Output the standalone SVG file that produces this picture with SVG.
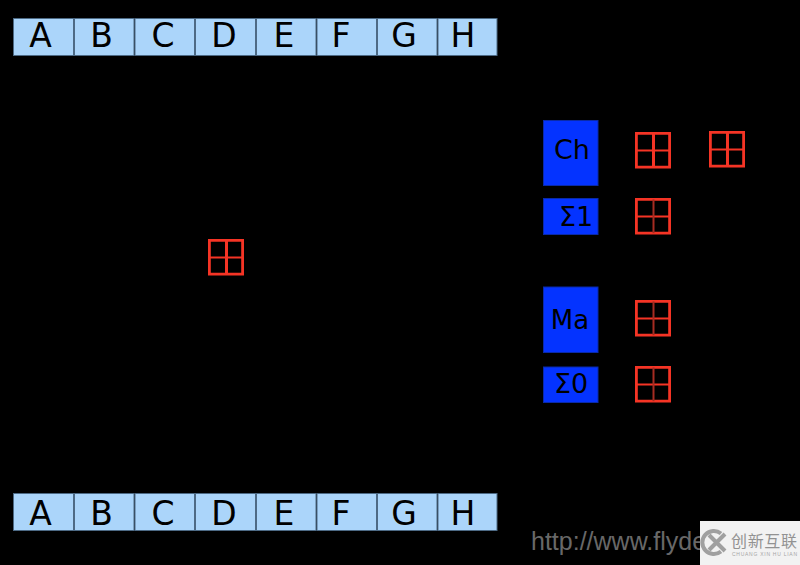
<svg xmlns="http://www.w3.org/2000/svg" width="800" height="565" viewBox="0 0 800 565">
<style>
.reg{fill:#abd5fa;stroke:#4d6a85;stroke-width:1}
.rl{font-family:"DejaVu Sans",sans-serif;font-size:33px;fill:#000;text-anchor:middle}
.fn{fill:#0433ff;stroke:#0a2aa8;stroke-width:1}
.fl{font-family:"DejaVu Sans",sans-serif;font-size:27px;fill:#000;text-anchor:middle}
.frame{fill:none;stroke:#f53425;stroke-width:2.8}
.cross{fill:none;stroke:#f53425;stroke-width:2}
.vb{fill:none;stroke:#f53425;stroke-width:3}
.vd{fill:none;stroke:#a62c22;stroke-width:2}
</style>
<defs>
<g id="box"><path class="frame" d="M1.400 1.400H34.600V35.200H1.400Z"/><path class="cross" d="M1.400 18.500H34.600"/></g>
<path id="vbar" d="M18.500 1.400V35.200"/>
</defs>
<rect width="800" height="565" fill="#000"/>
<g id="connectors"></g>
<g id="input-registers">
<g id="in-A"><rect class="reg" x="13.5" y="18.5" width="60" height="37"/><text class="rl" x="40.5" y="47">A</text></g>
<g id="in-B"><rect class="reg" x="74.5" y="18.5" width="59.500" height="37"/><text class="rl" x="101.500" y="47">B</text></g>
<g id="in-C"><rect class="reg" x="135" y="18.500" width="59.500" height="37"/><text class="rl" x="163" y="47">C</text></g>
<g id="in-D"><rect class="reg" x="195.500" y="18.500" width="60" height="37"/><text class="rl" x="224" y="47">D</text></g>
<g id="in-E"><rect class="reg" x="256.500" y="18.500" width="59.500" height="37"/><text class="rl" x="284" y="47">E</text></g>
<g id="in-F"><rect class="reg" x="317" y="18.500" width="59.500" height="37"/><text class="rl" x="341" y="47">F</text></g>
<g id="in-G"><rect class="reg" x="377.500" y="18.500" width="59.500" height="37"/><text class="rl" x="404" y="47">G</text></g>
<g id="in-H"><rect class="reg" x="438" y="18.500" width="59" height="37"/><text class="rl" x="463" y="47">H</text></g>
</g>
<g id="output-registers">
<g id="out-A"><rect class="reg" x="13.5" y="493.500" width="60" height="37"/><text class="rl" x="40.5" y="525">A</text></g>
<g id="out-B"><rect class="reg" x="74.5" y="493.500" width="59.500" height="37"/><text class="rl" x="101.500" y="525">B</text></g>
<g id="out-C"><rect class="reg" x="135" y="493.500" width="59.500" height="37"/><text class="rl" x="163" y="525">C</text></g>
<g id="out-D"><rect class="reg" x="195.500" y="493.500" width="60" height="37"/><text class="rl" x="224" y="525">D</text></g>
<g id="out-E"><rect class="reg" x="256.500" y="493.500" width="59.500" height="37"/><text class="rl" x="284" y="525">E</text></g>
<g id="out-F"><rect class="reg" x="317" y="493.500" width="59.500" height="37"/><text class="rl" x="341" y="525">F</text></g>
<g id="out-G"><rect class="reg" x="377.500" y="493.500" width="59.500" height="37"/><text class="rl" x="404" y="525">G</text></g>
<g id="out-H"><rect class="reg" x="438" y="493.500" width="59" height="37"/><text class="rl" x="463" y="525">H</text></g>
</g>
<g id="fn-Ch"><rect class="fn" x="543.500" y="120.500" width="54.500" height="65"/><text class="fl" x="572" y="159">Ch</text></g>
<g id="fn-S1"><rect class="fn" x="543.500" y="198.500" width="54.500" height="36"/><text class="fl" x="576" y="226">Σ1</text></g>
<g id="fn-Ma"><rect class="fn" x="543.500" y="287" width="54.500" height="65.500"/><text class="fl" x="570" y="329" style="font-size:26px">Ma</text></g>
<g id="fn-S0"><rect class="fn" x="543.500" y="367" width="54.500" height="35.500"/><text class="fl" x="571" y="393">Σ0</text></g>
<g id="adder-1"><use href="#box" x="635" y="132"/><use href="#vbar" class="vb" x="635" y="132"/></g>
<g id="adder-2"><use href="#box" x="709" y="131"/><use href="#vbar" class="vb" x="709" y="131"/></g>
<g id="adder-3"><use href="#box" x="635" y="198"/><use href="#vbar" class="vd" x="635" y="198"/></g>
<g id="adder-4"><use href="#box" x="635" y="300"/><use href="#vbar" class="vd" x="635" y="300"/></g>
<g id="adder-5"><use href="#box" x="635" y="366"/><use href="#vbar" class="vd" x="635" y="366"/></g>
<g id="adder-6"><use href="#box" x="208" y="239"/><use href="#vbar" class="vb" x="208" y="239"/></g>
<g id="watermark">
<text x="531" y="550" font-family="'Liberation Sans',sans-serif" font-size="25" fill="#686868">http://www.flyde</text>
<rect x="700" y="521" width="100" height="44" fill="#f2f2f2"/>
<path d="M721 533.500A11.500 11.500 0 1 0 721 551.500" fill="none" stroke="#a0a0a0" stroke-width="4"/>
<path d="M709 535L725 551M725 534L709 550" fill="none" stroke="#a0a0a0" stroke-width="4"/>
<text x="731" y="547" font-family="'Noto Sans CJK SC',sans-serif" font-size="16" fill="#929292" textLength="66">创新互联</text>
<text x="732" y="555.500" font-family="'Liberation Sans',sans-serif" font-size="5" fill="#a5a5a5" textLength="65">CHUANG XIN HU LIAN</text>
</g>
</svg>
